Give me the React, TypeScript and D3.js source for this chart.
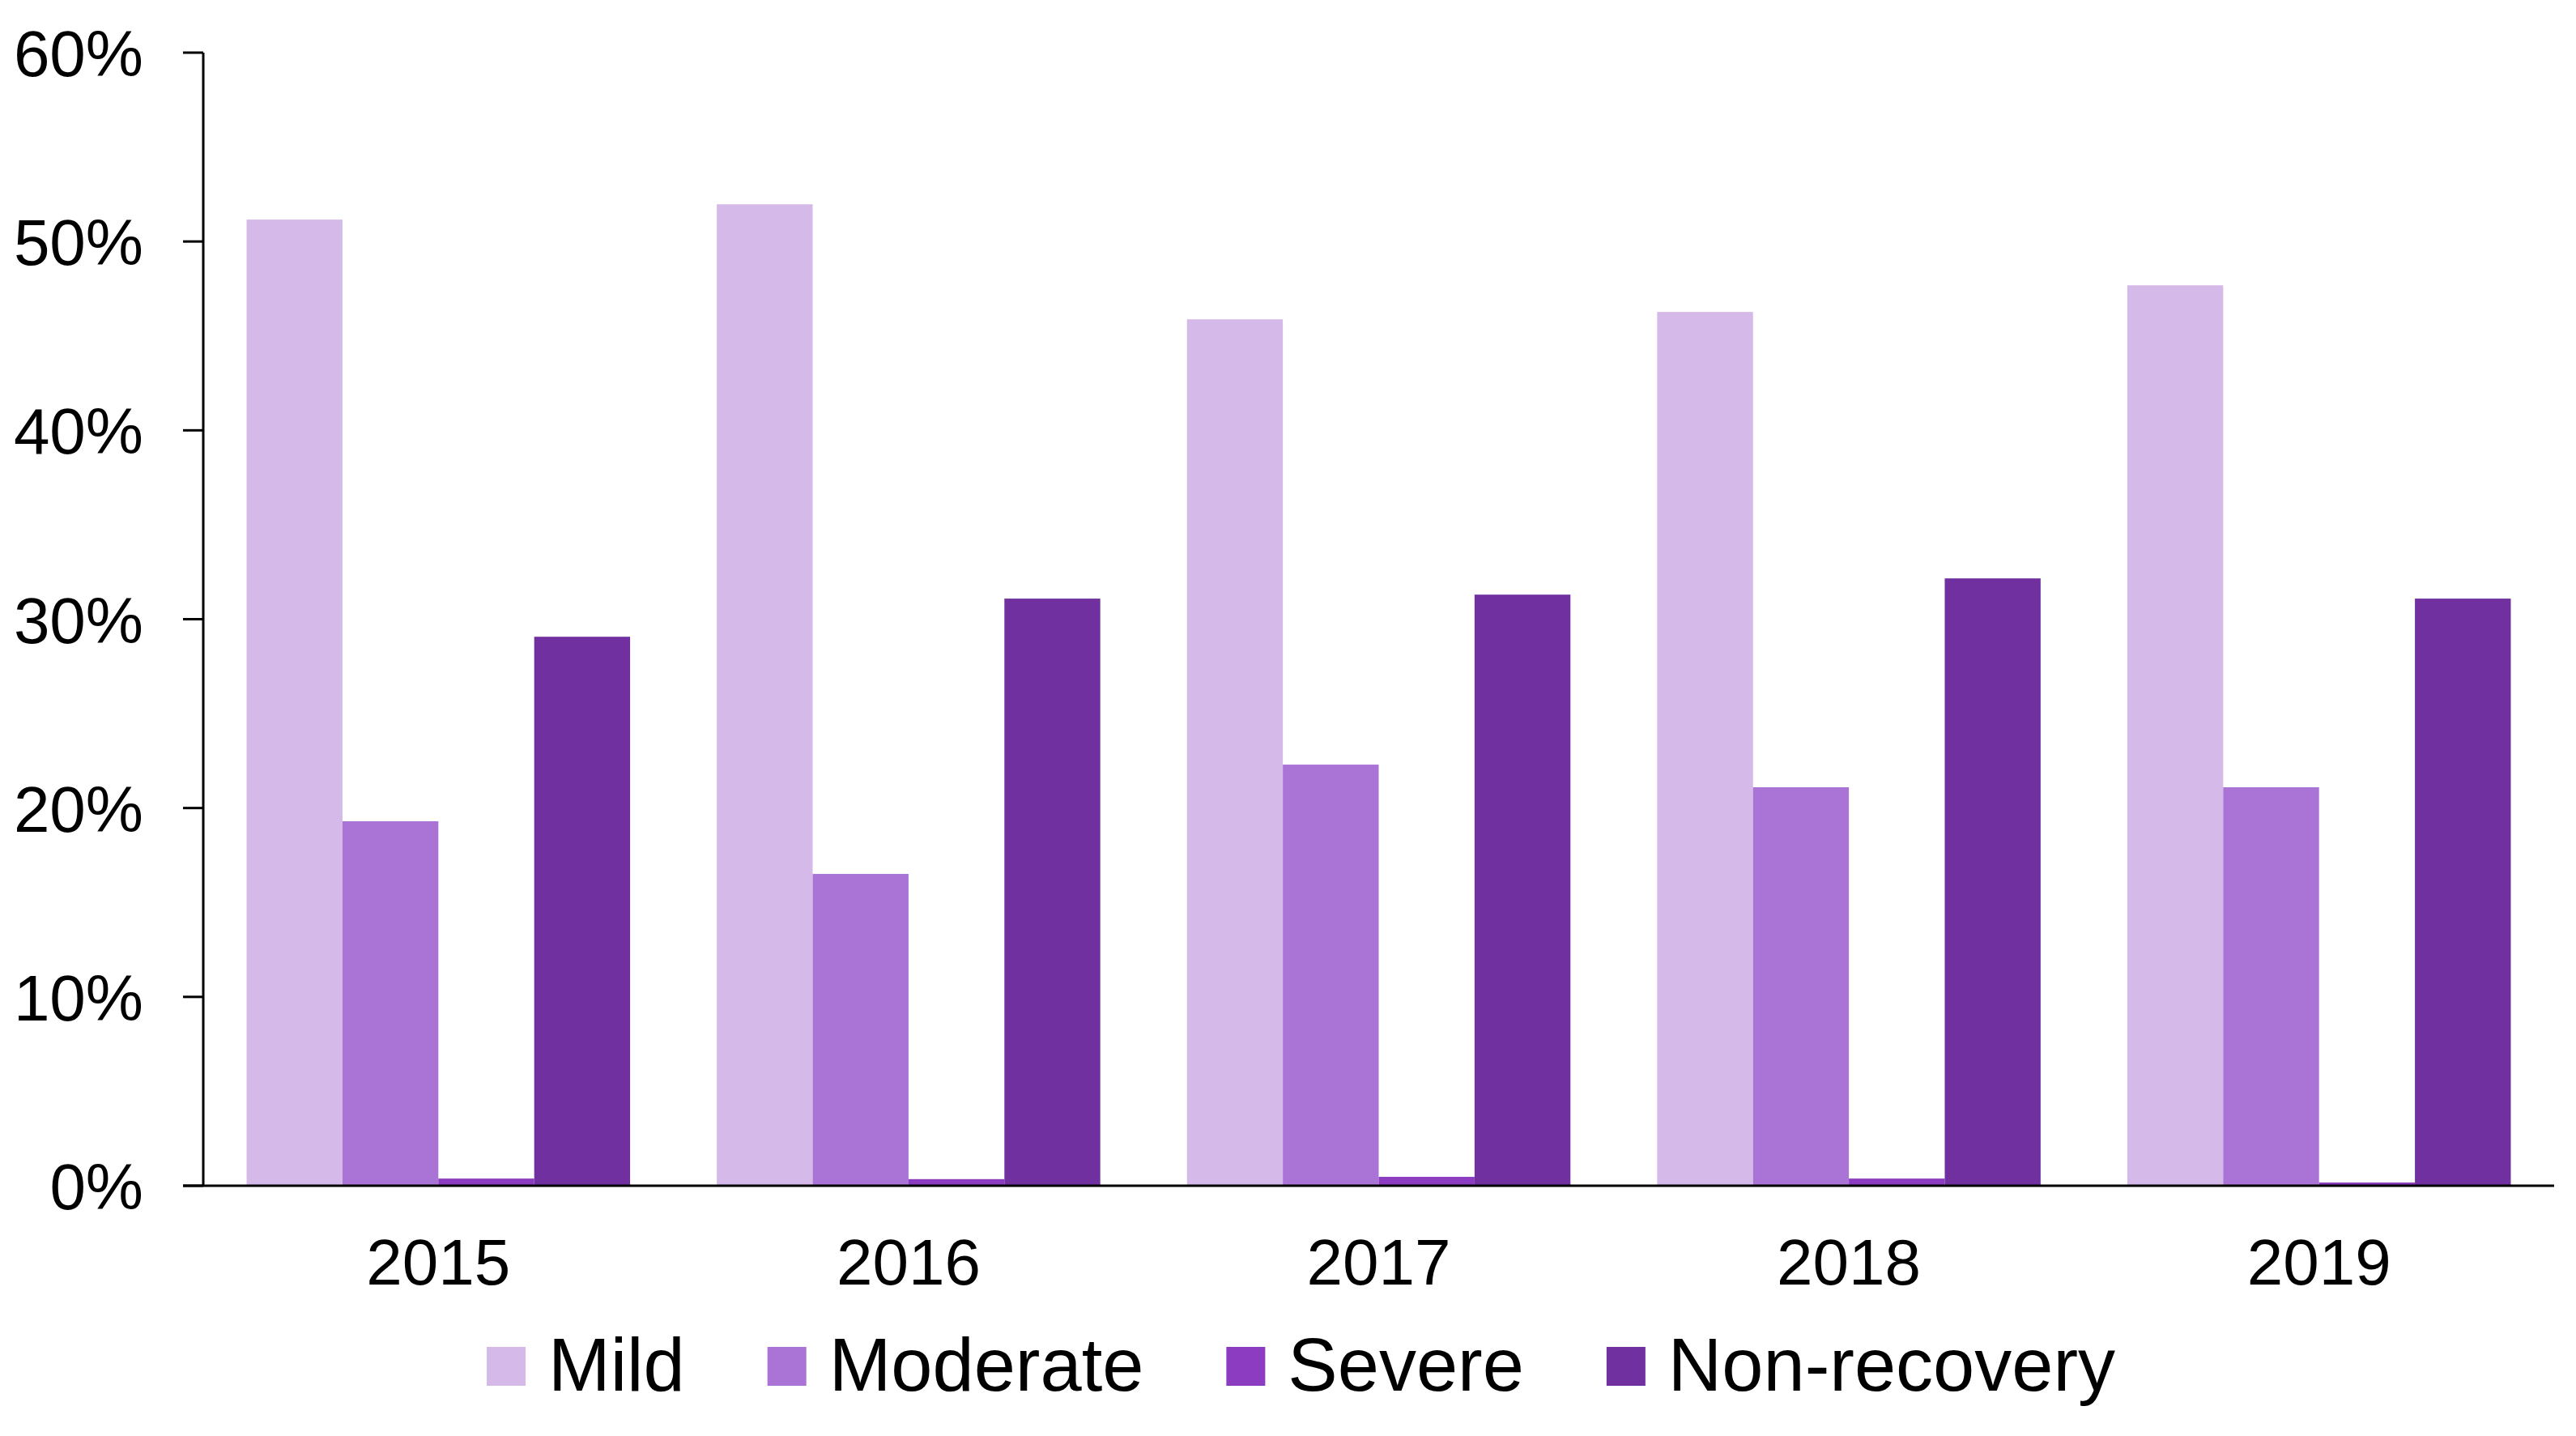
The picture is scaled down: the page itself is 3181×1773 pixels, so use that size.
import * as d3 from 'd3';
import { useEffect, useRef } from 'react';

const years = ['2015', '2016', '2017', '2018', '2019'];
const seriesNames = ['Mild', 'Moderate', 'Severe', 'Non-recovery'];
const seriesColors = ['#d5b9e8', '#a974d6', '#8b3cc0', '#7030a0'];

const mild = [0.5116, 0.5197, 0.4588, 0.4627, 0.4768];
const moderate = [0.193, 0.1651, 0.223, 0.211, 0.211];
const severe = [0.0038, 0.0035, 0.0047, 0.0038, 0.0017];
const nonRecovery = [0.2907, 0.3109, 0.313, 0.3216, 0.3109];

const yTicks = [0, 0.1, 0.2, 0.3, 0.4, 0.5, 0.6];

const W = 3181;
const H = 1773;

export default function App() {
  const ref = useRef<SVGSVGElement>(null);

  useEffect(() => {
    if (!ref.current) return;
    const svg = d3.select(ref.current);
    svg.selectAll('*').remove();

    const font = '"Liberation Sans", Arial, sans-serif';
    const left = 251, right = 3154, top = 65, bottom = 1464;

    const values = [mild, moderate, severe, nonRecovery];
    const rows = years.map((y, i) => ({ year: y, vals: values.map(s => s[i]) }));

    const x0 = d3.scaleBand().domain(years).range([left, right]).padding(0);
    const gap = x0.bandwidth() * 0.0922;
    const x1 = d3.scaleBand<number>()
      .domain(d3.range(seriesNames.length))
      .range([gap, x0.bandwidth() - gap])
      .padding(0);
    const y = d3.scaleLinear().domain([0, 0.6]).range([bottom, top]);

    // bars
    const g = svg.append('g');
    rows.forEach(r => {
      const grp = g.append('g').attr('transform', `translate(${x0(r.year)},0)`);
      r.vals.forEach((v, k) => {
        grp.append('rect')
          .attr('x', x1(k)!)
          .attr('y', y(v))
          .attr('width', x1.bandwidth())
          .attr('height', bottom - y(v))
          .attr('fill', seriesColors[k]);
      });
    });

    // y axis
    svg.append('line')
      .attr('x1', left).attr('x2', left)
      .attr('y1', y(0.6)).attr('y2', bottom)
      .attr('stroke', '#000').attr('stroke-width', 3);
    yTicks.forEach(t => {
      svg.append('line')
        .attr('x1', left - 25).attr('x2', left)
        .attr('y1', y(t)).attr('y2', y(t))
        .attr('stroke', '#000').attr('stroke-width', 3);
      svg.append('text')
        .text(d3.format('.0%')(t))
        .attr('x', 177)
        .attr('y', y(t) + 29)
        .attr('text-anchor', 'end')
        .attr('font-family', font)
        .attr('font-size', 80)
        .attr('fill', '#000');
    });

    // x axis
    svg.append('line')
      .attr('x1', left - 25).attr('x2', right)
      .attr('y1', bottom).attr('y2', bottom)
      .attr('stroke', '#000').attr('stroke-width', 3);
    years.forEach(yr => {
      svg.append('text')
        .text(yr)
        .attr('x', x0(yr)! + x0.bandwidth() / 2)
        .attr('y', 1586)
        .attr('text-anchor', 'middle')
        .attr('font-family', font)
        .attr('font-size', 80)
        .attr('fill', '#000');
    });

    // legend
    let lx = 601;
    seriesNames.forEach((name, k) => {
      svg.append('rect')
        .attr('x', lx).attr('y', 1663)
        .attr('width', 48).attr('height', 48)
        .attr('fill', seriesColors[k]);
      const t = svg.append('text')
        .text(name)
        .attr('x', lx + 76)
        .attr('y', 1717)
        .attr('font-family', font)
        .attr('font-size', 92)
        .attr('fill', '#000');
      const w = (t.node() as SVGTextElement).getComputedTextLength();
      lx += 76 + w + 102;
    });
  }, []);

  return (
    <svg
      ref={ref}
      width={W}
      height={H}
      style={{ position: 'absolute', left: 0, top: 0, background: '#fff' }}
    />
  );
}
